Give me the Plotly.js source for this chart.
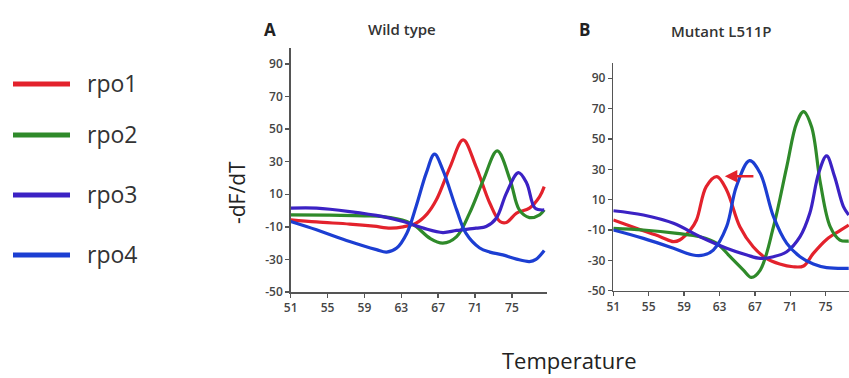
<!DOCTYPE html>
<html>
<head>
<meta charset="utf-8">
<script src="https://cdn.plot.ly/plotly-3.0.1.min.js"></script>
<style>html,body{margin:0;padding:0;overflow:hidden;background:#fff}#chart{width:849px;height:378px}</style>
</head>
<body>
<div id="chart"></div>
<script>
// ---- Data ----
const seriesNames = ["rpo1", "rpo2", "rpo3", "rpo4"];
const seriesColors = ["#e3222c", "#2f8a2a", "#3b22c4", "#1c3ed2"];

// Panel A: Wild type
const aRpo1X = [51, 53.8, 57.4, 60, 61.8, 63.2, 64.6, 65.8, 66.8, 68.3, 69.7, 71.1, 72.6, 73.7, 74.4, 75.5, 76.9, 78, 78.5];
const aRpo1Y = [-5.7, -7, -8.3, -9.6, -10.8, -10, -7.7, -2, 6.6, 27, 43.4, 27, 4.5, -6.7, -7.3, -1.6, 1.5, 8.6, 14.7];
const aRpo2X = [51, 55, 59, 61, 63.6, 64.6, 66.1, 67.5, 69, 70.4, 71.9, 73.4, 74.8, 75.8, 76.9, 78, 78.5];
const aRpo2Y = [-2.6, -2.8, -3.2, -3.7, -6.7, -9.8, -17, -20, -16, -1.6, 18.8, 36.6, 18.8, 0.4, -4.3, -2.6, 0.4];
const aRpo3X = [51, 53.8, 57.4, 61, 63.2, 65.4, 67.5, 69, 71.1, 72.2, 73.3, 74.4, 75.7, 76.6, 77.5, 78.5];
const aRpo3Y = [1.5, 1.5, -0.6, -3.7, -6.7, -10.8, -13.5, -12.2, -10.8, -9.8, -4.7, 10.7, 23.3, 16.8, 1.5, 0.4];
const aRpo4X = [51, 53.8, 57.4, 60.3, 61.4, 62.5, 63.6, 64.6, 65.7, 66.6, 67.5, 69, 70, 71.5, 72.6, 74, 75.5, 76.9, 77.6, 78.5];
const aRpo4Y = [-6.7, -11.8, -19, -24, -25.5, -23, -13.9, 2.5, 23, 34.6, 25, 0.4, -13.9, -23, -25.5, -27.2, -29.8, -31.3, -30, -24.5];

// Panel B: Mutant L511P
const bRpo1X = [51, 53.6, 56.3, 57.8, 58.5, 59.7, 60.4, 61.5, 62.7, 63.8, 65.3, 66.8, 68.3, 69.8, 71.3, 72.5, 73.6, 75.1, 76.6, 77.6];
const bRpo1Y = [-3.4, -8.9, -14.4, -17.7, -16.6, -10, -3.4, 18.6, 25.2, 16.4, -7.8, -21, -28.7, -32.4, -34.2, -33.7, -25.4, -16.2, -10.4, -6.7];
const bRpo2X = [51, 54.4, 58.2, 60.8, 62.7, 64.2, 65.7, 66.6, 67.6, 69.1, 70.6, 71.7, 72.5, 73.4, 74.4, 75.5, 76.6, 77.6];
const bRpo2Y = [-8.9, -10, -12.2, -14.4, -18.8, -27.6, -36.4, -41.2, -36.4, -7.8, 31.8, 60.3, 68, 58, 20.8, -7.8, -16.6, -17.3];
const bRpo3X = [51, 54.4, 57.8, 60.8, 63.8, 66.1, 67.6, 69.1, 70.6, 72.1, 73.2, 74.2, 75.1, 76, 77, 77.6];
const bRpo3Y = [2.7, -0.1, -5.6, -14.4, -22, -26.5, -28.7, -27.6, -24.3, -14.4, 1, 27.4, 38.8, 25.2, 5.4, -0.1];
const bRpo4X = [51, 54.4, 57.8, 60, 61.2, 62.3, 63.8, 64.9, 66.4, 67.6, 69.1, 70.6, 72.1, 73.6, 75.1, 77.6];
const bRpo4Y = [-10, -15.5, -22, -26.5, -26.5, -23.2, -7.8, 18.6, 35.7, 27.4, -1.2, -18.8, -27.6, -32.4, -34.8, -35.3];

// Arrow in panel B (shift of rpo1 peak)
const arrowFrom = [67.0, 25.5];
const arrowTo = [63.6, 25.5];

// Axis ticks
const xTickVals = [51, 55, 59, 63, 67, 71, 75];
const xTickText = ["51", "55", "59", "63", "67", "71", "75"];
const yTickVals = [-50, -30, -10, 10, 30, 50, 70, 90];
const yTickText = ["-50", "-30", "-10", "10", "30", "50", "70", "90"];

// Text
const panelLabels = ["A", "B"];
const panelTitles = ["Wild type", "Mutant L511P"];
const yTitle = "-dF/dT";
const xTitle = "Temperature";

// ---- Build traces ----
const panelA = [[aRpo1X, aRpo1Y], [aRpo2X, aRpo2Y], [aRpo3X, aRpo3Y], [aRpo4X, aRpo4Y]];
const panelB = [[bRpo1X, bRpo1Y], [bRpo2X, bRpo2Y], [bRpo3X, bRpo3Y], [bRpo4X, bRpo4Y]];
const traces = [];
panelA.forEach((d, i) => traces.push({
  x: d[0], y: d[1], type: "scatter", mode: "lines", name: seriesNames[i],
  line: {color: seriesColors[i], width: 3.2, shape: "spline", smoothing: 1},
  xaxis: "x", yaxis: "y", showlegend: false, hoverinfo: "skip"
}));
panelB.forEach((d, i) => traces.push({
  x: d[0], y: d[1], type: "scatter", mode: "lines", name: seriesNames[i],
  line: {color: seriesColors[i], width: 3.2, shape: "spline", smoothing: 1},
  xaxis: "x2", yaxis: "y2", showlegend: false, hoverinfo: "skip"
}));

const tickFont = {family: "'Open Sans', Lato, sans-serif", size: 12, color: "#444", weight: 600};
function xAxis(domain, range, anchor) {
  return {domain, range, anchor, showline: true, linecolor: "#555", linewidth: 1.5,
    ticks: "outside", ticklen: 4, tickwidth: 1.5, tickcolor: "#555",
    tickvals: xTickVals, ticktext: xTickText, tickfont: tickFont,
    showgrid: false, zeroline: false, fixedrange: true};
}
function yAxis(domain, anchor) {
  return {domain, range: [-50, 100], anchor, showline: true, linecolor: "#555", linewidth: 1.5,
    ticks: "outside", ticklen: 4, tickwidth: 1.5, tickcolor: "#555",
    tickvals: yTickVals, ticktext: yTickText, tickfont: tickFont,
    showgrid: false, zeroline: false, fixedrange: true};
}

const W = 849, H = 378;
const px = v => v / W, py = v => 1 - v / H;

// Legend drawn as shapes + text
const legendY = [84, 135, 195, 255];
const shapes = seriesNames.map((n, i) => ({
  type: "line", xref: "paper", yref: "paper",
  x0: px(13), x1: px(70), y0: py(legendY[i]), y1: py(legendY[i]),
  line: {color: seriesColors[i], width: 5}
}));

const txtFont = "'Open Sans', Lato, sans-serif";
function label(x, y, text, size, color, weight, extra) {
  return Object.assign({xref: "paper", yref: "paper", x: px(x), y: py(y), xanchor: "center", yanchor: "middle",
    text, showarrow: false, font: {family: txtFont, size, color, weight: weight || 400}}, extra || {});
}
const annotations = [];
seriesNames.forEach((n, i) => annotations.push(
  label(85, legendY[i] - 1, n, 23, "#333", 400, {xanchor: "left"})
));
annotations.push(
  label(270, 29, panelLabels[0], 17, "#222", 700),
  label(402, 29, panelTitles[0], 15, "#333", 600),
  label(584, 29, panelLabels[1], 17, "#222", 700),
  label(721, 31, panelTitles[1], 15, "#333", 600),
  label(237, 193, yTitle, 21, "#222", 400, {textangle: -90}),
  label(569, 360, xTitle, 22, "#222", 400),
  {xref: "x2", yref: "y2", x: arrowTo[0], y: arrowTo[1], axref: "x2", ayref: "y2",
   ax: arrowFrom[0], ay: arrowFrom[1], showarrow: true, arrowhead: 2, arrowsize: 1,
   arrowwidth: 2.5, arrowcolor: "#e3222c", text: ""}
);

const layout = {
  width: W, height: H, margin: {l: 0, r: 0, t: 0, b: 0},
  paper_bgcolor: "#fff", plot_bgcolor: "#fff", showlegend: false,
  xaxis: xAxis([px(290.7), px(547)], [51, 78.8], "y"),
  yaxis: yAxis([py(292), py(47.7)], "x"),
  xaxis2: xAxis([px(613.3), 1], [51, 77.63], "y2"),
  yaxis2: yAxis([py(290.7), py(63.1)], "x2"),
  shapes, annotations
};

Plotly.newPlot("chart", traces, layout, {displayModeBar: false, staticPlot: true});
</script>
</body>
</html>
